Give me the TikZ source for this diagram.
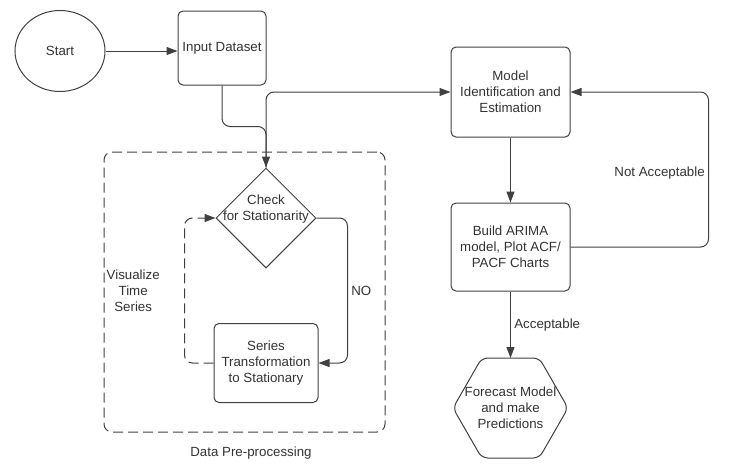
\documentclass[tikz,border=0pt]{standalone}
\usepackage{fontspec}
\setmainfont{Liberation Sans}
\usetikzlibrary{shapes.geometric,arrows.meta}
\definecolor{ink}{HTML}{404040}
\definecolor{txt}{HTML}{333333}

\begin{document}
\begin{tikzpicture}[x=1pt, y=-1pt, font=\fontsize{13.3}{16}\selectfont, text=txt,
  flow/.style={draw=ink, line width=1pt, rounded corners=8pt, -{Triangle[length=11pt,width=8pt]}},
  dashline/.style={dash pattern=on 10pt off 5pt}]

\useasboundingbox (0,0) rectangle (739,464);

\begin{scope}[every node/.style={draw=ink, line width=1pt, shape=rectangle, rounded corners=5pt, align=center, inner sep=2pt}]
    \path (60,51) node[ellipse, sharp corners, minimum width=90pt, minimum height=81pt] (start) {Start};
    \path (start) +(162,-3) node[minimum width=88pt, minimum height=74pt] (input) {Input Dataset};
    \path (input) +(44,170) node[diamond, sharp corners, inner sep=0pt, minimum width=100pt, minimum height=100pt] (check) {};
    \path (check) +(0,145) node[minimum width=104pt, minimum height=79pt] (trans) {Series\\Transformation\\to Stationary};
    \path (check) +(-21.5,74) node[dashline, rounded corners=8pt, minimum width=281pt, minimum height=280pt] (prep) {};
    \path (input) +(288.5,44) node[minimum width=119pt, minimum height=90pt] (model) {Model\\Identification and\\Estimation};
    \path (model) +(0,155) node[minimum width=119pt, minimum height=88pt] (arima) {Build ARIMA\\model, Plot ACF/\\PACF Charts};
    \path (arima) +(0,161) node[draw=none] (forecast) {Forecast Model\\and make\\Predictions};
\end{scope}

\path (check) +(0,-9) node[align=center] (checktext) {Check\\for Stationarity};
\path (prep.south) +(6.5,21) node (preplabel) {Data Pre-processing};

\draw[draw=ink, line width=1pt, rounded corners=6pt, shift={(forecast.center)}]
    (0,-50) -- (28.75,-50) -- (57.5,0) -- (28.75,50) -- (-28.75,50) -- (-57.5,0) -- (-28.75,-50) -- cycle;
\coordinate (ftop) at ([yshift=50pt]forecast.center);


\draw[flow] (start.east) -- (start.east -| input.west);
\draw[flow] (input.south) -- ++(0,41) -| (check.north);
\draw[flow] (check.north) |- (model.west);
\draw[flow] (check.east) -- ++(31,0) coordinate (noturn) -- node[anchor=west] {NO} (noturn |- trans.east) -- (trans.east);
\draw[flow, dashline] (trans.west) -- ++(-29,0) coordinate (vturn) -- node[left=21pt, align=center] {Visualize\\Time\\Series} (vturn |- check.west) -- (check.west);
\draw[flow] (model) -- (arima);
\draw[flow] (arima.east) -- ++(138,0) coordinate (naturn) -- node[anchor=east, yshift=-4pt] {Not Acceptable} (naturn |- model.east) -- (model.east);
\draw[flow] (arima.south) -- node[anchor=west] {Acceptable} (ftop);

\end{tikzpicture}
\end{document}
